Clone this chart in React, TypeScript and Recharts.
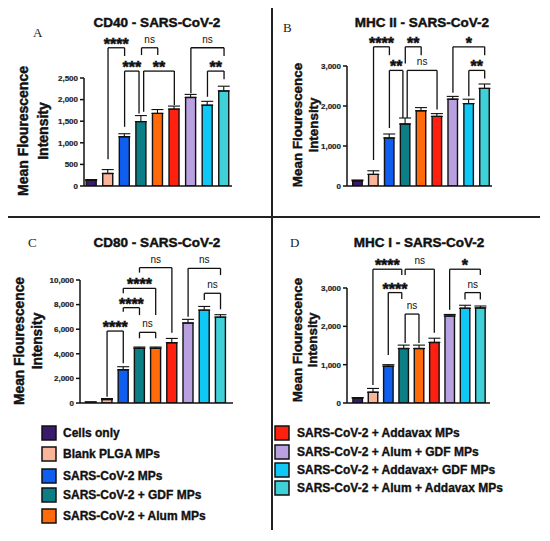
import React from 'react';
import { Bar, BarChart, Cell, ErrorBar, ReferenceDot, ReferenceLine, XAxis, YAxis } from 'recharts';

const groups = [
  'Cells only',
  'Blank PLGA MPs',
  'SARS-CoV-2 MPs',
  'SARS-CoV-2 + GDF MPs',
  'SARS-CoV-2 + Alum MPs',
  'SARS-CoV-2 + Addavax MPs',
  'SARS-CoV-2 + Alum + GDF MPs',
  'SARS-CoV-2 + Addavax+ GDF MPs',
  'SARS-CoV-2 + Alum + Addavax MPs',
];
const colors = ['#3A1A6A', '#F9B59A', '#0F5EF0', '#0C7E86', '#FF6A0A', '#FF2010', '#B9A0E0', '#10C8F5', '#40D0D8'];
const positions = [1, 2, 3, 4, 5, 6, 7, 8, 9];

const cd40Mean = [130, 290, 1140, 1490, 1680, 1780, 2050, 1870, 2200];
const cd40Err = [20, 90, 70, 140, 90, 70, 70, 90, 110];
const mhc2Mean = [130, 290, 1200, 1550, 1880, 1740, 2170, 2060, 2440];
const mhc2Err = [20, 90, 100, 150, 80, 70, 70, 110, 110];
const cd80Mean = [60, 280, 2700, 4450, 4450, 4900, 6500, 7550, 6980];
const cd80Err = [30, 80, 250, 100, 100, 350, 300, 300, 200];
const mhc1Mean = [130, 280, 960, 1420, 1420, 1580, 2270, 2470, 2480];
const mhc1Err = [10, 100, 40, 90, 90, 110, 40, 80, 50];

const cd40Ticks = [0, 500, 1000, 1500, 2000, 2500];
const mhc2Ticks = [0, 1000, 2000, 3000];
const cd80Ticks = [0, 2000, 4000, 6000, 8000, 10000];
const mhc1Ticks = [0, 1000, 2000, 3000];

// [from, to, top, left leg end, right leg end, label]
type Bracket = [number, number, number, number, number, string];
const cd40Brackets: Bracket[] = [
  [2, 3, 3200, 620, 3010, '****'],
  [3, 3.87, 2660, 1370, 1680, '***'],
  [4.02, 5, 3200, 3030, 3030, 'ns'],
  [4.15, 6, 2660, 1720, 1875, '**'],
  [7, 9, 3200, 2145, 3010, 'ns'],
  [8, 9, 2660, 2065, 2470, '**'],
];
const mhc2Brackets: Bracket[] = [
  [2, 3, 3480, 650, 3270, '****'],
  [4, 5, 3480, 3060, 3270, '**'],
  [3, 3.85, 2890, 1450, 1700, '**'],
  [4.12, 6, 2890, 1700, 1910, 'ns'],
  [7, 9, 3480, 2330, 3270, '*'],
  [8, 9, 2890, 2245, 2690, '**'],
];
const cd80Brackets: Bracket[] = [
  [2, 3, 5850, 510, 3230, '****'],
  [3, 4, 7750, 7420, 7150, '****'],
  [3, 5, 9320, 8920, 7150, '****'],
  [4, 5, 5745, 5260, 5260, 'ns'],
  [4, 6, 11000, 10600, 5720, 'ns'],
  [7, 9, 10950, 7020, 10400, 'ns'],
  [8, 9, 8920, 8370, 7620, 'ns'],
];
const mhc1Brackets: Bracket[] = [
  [2, 3.88, 3490, 470, 3340, '****'],
  [3, 3.88, 2880, 1250, 2710, '****'],
  [4.1, 6, 3490, 3340, 1830, 'ns'],
  [4.1, 5, 2320, 1565, 1565, 'ns'],
  [7, 9, 3490, 2430, 3340, '*'],
  [8, 9, 2880, 2700, 2700, 'ns'],
];

const FONT = '"Liberation Sans", Arial, Helvetica, sans-serif';
const INK = '#111';

const starLabel = (text: string) => (p: any) => {
  const stars = text !== 'ns';
  return (
    <text
      x={p.cx}
      y={stars ? p.cy + 2 : p.cy - 5}
      textAnchor="middle"
      fontFamily={FONT}
      fontSize={stars ? 16 : 10}
      fontWeight={stars ? 'bold' : 'normal'}
      fill={INK}
      stroke={stars ? INK : 'none'}
      strokeWidth={stars ? 0.5 : 0}
    >
      {text}
    </text>
  );
};

interface PanelProps {
  left: number;
  top: number;
  width: number;
  height: number;
  margin: { top: number; right: number; bottom: number; left: number };
  axisWidth: number;
  xDomain: [number, number];
  ticks: number[];
  means: number[];
  errs: number[];
  brackets: Bracket[];
  barSize: number;
}

function Panel({ left, top, width, height, margin, axisWidth, xDomain, ticks, means, errs, brackets, barSize }: PanelProps) {
  const data = positions.map((pos, i) => ({ pos, value: means[i], err: [0, errs[i]] }));
  const line = { stroke: INK, strokeWidth: 1.5 };
  return (
    <div style={{ position: 'absolute', left, top }}>
      <BarChart width={width} height={height} data={data} margin={margin}>
        <XAxis
          type="number"
          dataKey="pos"
          domain={xDomain}
          ticks={positions}
          tick={false}
          tickSize={4}
          height={6}
          axisLine={line}
          tickLine={{ stroke: INK, strokeWidth: 1 }}
          allowDataOverflow
        />
        <YAxis
          domain={[0, ticks[ticks.length - 1]]}
          ticks={ticks}
          width={axisWidth}
          tickSize={4}
          axisLine={line}
          tickLine={{ stroke: INK, strokeWidth: 1.5 }}
          tick={{ fill: '#222', fontSize: 8, fontWeight: 'bold', fontFamily: FONT, stroke: '#222', strokeWidth: 0.2 }}
          tickFormatter={(v: number) => v.toLocaleString('en-US')}
          allowDataOverflow
        />
        <Bar dataKey="value" barSize={barSize} stroke={INK} strokeWidth={1.4} isAnimationActive={false}>
          {data.map((d, i) => (
            <Cell key={d.pos} fill={colors[i]} />
          ))}
          <ErrorBar dataKey="err" width={6} stroke={INK} strokeWidth={1.1} isAnimationActive={false} />
        </Bar>
        {brackets.map(([x1, x2, y, b1, b2, label], i) => [
          <ReferenceLine key={`l${i}`} segment={[{ x: x1, y: b1 }, { x: x1, y }]} stroke={INK} strokeWidth={1.3} ifOverflow="visible" />,
          <ReferenceLine key={`t${i}`} segment={[{ x: x1, y }, { x: x2, y }]} stroke={INK} strokeWidth={1.3} ifOverflow="visible" />,
          <ReferenceLine key={`r${i}`} segment={[{ x: x2, y }, { x: x2, y: b2 }]} stroke={INK} strokeWidth={1.3} ifOverflow="visible" />,
          <ReferenceDot key={`d${i}`} x={(x1 + x2) / 2} y={y} r={1} ifOverflow="visible" shape={starLabel(label)} />,
        ])}
      </BarChart>
    </div>
  );
}

const titles = ['CD40 - SARS-CoV-2', 'MHC II - SARS-CoV-2', 'CD80 - SARS-CoV-2', 'MHC I - SARS-CoV-2'];
const letters = ['A', 'B', 'C', 'D'];

const heavy = { fontFamily: FONT, fontWeight: 'bold' as const, fill: INK, stroke: INK, strokeWidth: 0.45 };

function YLabel({ x1, x2, cy, size }: { x1: number; x2: number; cy: number; size: number }) {
  const common = { ...heavy, fontSize: size, textAnchor: 'middle' as const };
  return (
    <g>
      <text {...common} transform={`translate(${x1 + size * 0.36},${cy}) rotate(-90)`}>Mean Flourescence</text>
      <text {...common} transform={`translate(${x2 + size * 0.36},${cy}) rotate(-90)`}>Intensity</text>
    </g>
  );
}

function Overlay() {
  const leftRows = [433, 454, 476, 495, 516];
  const rightRows = [433, 452, 470, 488];
  const titleStyle = { ...heavy, fontSize: 13.5, textAnchor: 'middle' as const };
  const letterStyle = { fontFamily: '"Liberation Serif", "Times New Roman", serif', fontSize: 13, fill: '#222' };
  const legendText = { ...heavy, fontSize: 12, strokeWidth: 0.35 };
  return (
    <svg width={550} height={541} style={{ position: 'absolute', left: 0, top: 0, pointerEvents: 'none' }}>
      <line x1={272} y1={8} x2={272} y2={530} stroke="#222" strokeWidth={2} />
      <line x1={8} y1={217} x2={540} y2={217} stroke="#222" strokeWidth={2} />

      <text {...titleStyle} x={157} y={27}>{titles[0]}</text>
      <text {...titleStyle} x={422} y={27}>{titles[1]}</text>
      <text {...titleStyle} x={157} y={247}>{titles[2]}</text>
      <text {...titleStyle} x={419} y={247}>{titles[3]}</text>

      <text {...letterStyle} x={33} y={37}>{letters[0]}</text>
      <text {...letterStyle} x={283} y={32}>{letters[1]}</text>
      <text {...letterStyle} x={28} y={247}>{letters[2]}</text>
      <text {...letterStyle} x={290} y={247}>{letters[3]}</text>

      <YLabel x1={23} x2={43} cy={131} size={14} />
      <YLabel x1={297} x2={313} cy={125} size={13.4} />
      <YLabel x1={19} x2={37} cy={341} size={13.8} />
      <YLabel x1={297} x2={312} cy={340} size={13.4} />

      {leftRows.map((cy, i) => (
        <g key={groups[i]}>
          <rect x={42} y={cy - 7} width={14} height={14} fill={colors[i]} stroke={INK} strokeWidth={1.5} />
          <text {...legendText} x={63} y={cy + 4.3}>{groups[i]}</text>
        </g>
      ))}
      {rightRows.map((cy, j) => {
        const i = j + 5;
        return (
          <g key={groups[i]}>
            <rect x={275} y={cy - 7} width={14} height={14} fill={colors[i]} stroke={INK} strokeWidth={1.5} />
            <text {...legendText} x={297} y={cy + 4.3}>{groups[i]}</text>
          </g>
        );
      })}
    </svg>
  );
}

export default function App() {
  return (
    <div style={{ position: 'absolute', left: 0, top: 0, width: 550, height: 541, background: '#fff', overflow: 'hidden' }}>
      <Panel
        left={0}
        top={0}
        width={275}
        height={200}
        margin={{ top: 78, right: 43, bottom: 8, left: 0 }}
        axisWidth={84}
        xDomain={[0.55, 9.48]}
        ticks={cd40Ticks}
        means={cd40Mean}
        errs={cd40Err}
        brackets={cd40Brackets}
        barSize={10}
      />
      <Panel
        left={275}
        top={0}
        width={275}
        height={200}
        margin={{ top: 66, right: 58, bottom: 8, left: 0 }}
        axisWidth={72}
        xDomain={[0.33, 9.46]}
        ticks={mhc2Ticks}
        means={mhc2Mean}
        errs={mhc2Err}
        brackets={mhc2Brackets}
        barSize={9.5}
      />
      <Panel
        left={0}
        top={200}
        width={275}
        height={220}
        margin={{ top: 80, right: 42, bottom: 11, left: 0 }}
        axisWidth={80}
        xDomain={[0.33, 9.77]}
        ticks={cd80Ticks}
        means={cd80Mean}
        errs={cd80Err}
        brackets={cd80Brackets}
        barSize={10}
      />
      <Panel
        left={275}
        top={200}
        width={275}
        height={220}
        margin={{ top: 88, right: 60, bottom: 11, left: 0 }}
        axisWidth={72}
        xDomain={[0.31, 9.63]}
        ticks={mhc1Ticks}
        means={mhc1Mean}
        errs={mhc1Err}
        brackets={mhc1Brackets}
        barSize={9.5}
      />
      <Overlay />
    </div>
  );
}
